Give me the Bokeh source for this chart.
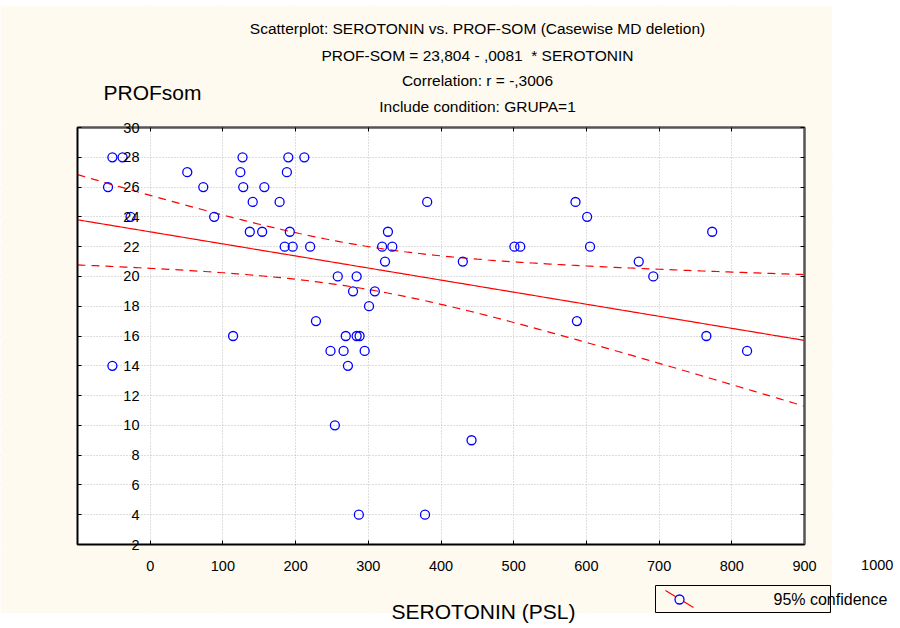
import numpy as np
from bokeh.plotting import figure
from bokeh.models import (Range1d, LinearAxis, FixedTicker, Label, BoxAnnotation,
                          PolyAnnotation)
from bokeh.embed import file_html
from bokeh.resources import INLINE

# ---------------- data ----------------
serotonin = [48, 62, 227, 290, 312,
             151, 224, 288,
             42, 173, 228, 257,
             241, 278, 481, 685,
             73, 188, 701,
             237, 254, 292, 427, 873,
             285, 296, 320, 419, 433, 601, 609, 705,
             423, 530, 772,
             358, 384, 792,
             379, 409,
             401,
             328, 687,
             214, 369, 384, 388, 865,
             348, 366, 395, 921,
             48, 372,
             354,
             542,
             387, 478]
prof_som = [28, 28, 28, 28, 28,
            27, 27, 27,
            26, 26, 26, 26,
            25, 25, 25, 25,
            24, 24, 24,
            23, 23, 23, 23, 23,
            22, 22, 22, 22, 22, 22, 22, 22,
            21, 21, 21,
            20, 20, 20,
            19, 19,
            18,
            17, 17,
            16, 16, 16, 16, 16,
            15, 15, 15, 15,
            14, 14,
            10,
            9,
            4, 4]

intercept = 23.804
slope = -0.0081

x_tick_values = [100, 200, 300, 400, 500, 600, 700, 800, 900, 1000]
x_tick_labels = ["0", "100", "200", "300", "400", "500", "600", "700", "800", "900"]
extra_x_tick = 1100
extra_x_label = "1000"
y_tick_values = [2, 4, 6, 8, 10, 12, 14, 16, 18, 20, 22, 24, 26, 28, 30]

title_lines = ["Scatterplot: SEROTONIN vs. PROF-SOM (Casewise MD deletion)",
               "PROF-SOM = 23,804 - ,0081 \u00a0* SEROTONIN",
               "Correlation: r = -,3006",
               "Include condition: GRUPA=1"]
y_title = "PROFsom"
x_title = "SEROTONIN (PSL)"
legend_text = "95% confidence"

# ---------------- layout (page pixels -> data coordinates) ----------------
X0, X1, Y0, Y1 = 0, 1000, 2, 30
FL, FR, FT, FB = 77, 804, 127, 544   # plot box edges in page pixels
W, H = 900, 626


def dx(px):
    return X0 + (px - FL) * (X1 - X0) / (FR - FL)


def dy(py):
    return Y0 + (FB - py) * (Y1 - Y0) / (FB - FT)


CREAM = "#fefaef"
FONT = "Liberation Sans"

p = figure(width=W, height=H, output_backend="svg", toolbar_location=None,
           x_range=Range1d(dx(0), dx(W)), y_range=Range1d(dy(H), dy(0)),
           x_axis_location=None, y_axis_location=None,
           min_border=0)
p.border_fill_color = "white"
p.background_fill_color = "white"
p.outline_line_color = None

# grid (only inside the plot box; the rest is covered below)
p.xgrid.ticker = FixedTicker(ticks=x_tick_values[:-1])
p.ygrid.ticker = FixedTicker(ticks=y_tick_values[1:-1])
for g in (p.xgrid, p.ygrid):
    g.grid_line_color = "#bdbdbd"
    g.grid_line_dash = "1 2"
    g.grid_line_width = 1


def box(l, r, t, b, color):
    return BoxAnnotation(left=dx(l), right=dx(r), top=dy(t), bottom=dy(b),
                         fill_color=color, fill_alpha=1, line_color=None,
                         level="underlay")


for args in ((0, 832, 5, FT, CREAM), (0, 832, FB, 613, CREAM),
             (0, FL, FT, FB, CREAM), (FR, 832, FT, FB, CREAM),
             (0, W, 0, 5, "white"), (832, W, 0, H, "white"), (0, W, 613, H, "white")):
    p.add_layout(box(*args))
p.add_layout(BoxAnnotation(left=X0, right=X1, bottom=Y0, top=Y1, fill_alpha=0,
                           line_color="#555555", line_alpha=1, line_width=2,
                           level="underlay"))

# axes drawn at the edges of the plot box
xt = FixedTicker(ticks=x_tick_values)
yt = FixedTicker(ticks=y_tick_values)
bottom = LinearAxis(ticker=xt, fixed_location=Y0, bounds=(X0, X1),
                    major_label_overrides=dict(zip(x_tick_values, x_tick_labels)))
left = LinearAxis(ticker=yt, fixed_location=X0, bounds=(Y0, Y1))
top = LinearAxis(ticker=xt, fixed_location=Y1, bounds=(X0, X1),
                 major_label_overrides={v: "" for v in x_tick_values})
right = LinearAxis(ticker=yt, fixed_location=X1, bounds=(Y0, Y1),
                   major_label_overrides={v: "" for v in y_tick_values})
for ax, col, lw in ((bottom, "black", 1.5), (left, "black", 1.5),
                    (top, "#555555", 2), (right, "#555555", 2)):
    ax.axis_line_color = col
    ax.axis_line_width = lw
    ax.major_tick_in = 4
    ax.major_tick_out = 0
    ax.major_tick_line_color = "black"
    ax.minor_tick_line_color = None
    ax.major_label_text_font = FONT
    ax.major_label_text_font_size = "14.5px"
    ax.major_label_text_color = "black"
bottom.major_label_standoff = 16
left.major_label_standoff = -62
p.add_layout(left, "left")
p.add_layout(right, "right")
p.add_layout(bottom, "below")
p.add_layout(top, "above")

# regression line and 95% confidence band of the mean
xs = np.array(serotonin, dtype=float)
ys = np.array(prof_som, dtype=float)
n = len(xs)
resid = ys - (intercept + slope * xs)
s = np.sqrt(np.sum(resid ** 2) / (n - 2))
xbar = xs.mean()
sxx = np.sum((xs - xbar) ** 2)
tval = 2.003
grid_x = np.linspace(X0, X1, 201)
fit = intercept + slope * grid_x
half = tval * s * np.sqrt(1.0 / n + (grid_x - xbar) ** 2 / sxx)

p.line(grid_x, fit, line_color="red", line_width=1.2)
p.line(grid_x, fit + half, line_color="red", line_width=1.2, line_dash="8 6")
p.line(grid_x, fit - half, line_color="red", line_width=1.2, line_dash="8 6")

p.scatter(serotonin, prof_som, marker="circle", size=9, fill_color=None,
          line_color="blue", line_width=1.3)


def label(text, px, py, size, align="center"):
    return Label(x=dx(px), y=dy(py), text=text, text_align=align,
                 text_baseline="middle", text_font=FONT, text_font_size=size,
                 text_color="black")


for txt, py in zip(title_lines, (28, 55, 80, 106)):
    p.add_layout(label(txt, 477, py, "15.5px"))
p.add_layout(label(y_title, 103, 92, "21px", align="left"))
p.add_layout(label(x_title, 483, 611, "21px"))
p.add_layout(Label(x=extra_x_tick, y=dy(564), text=extra_x_label, text_align="center",
                   text_baseline="middle", text_font=FONT, text_font_size="14.5px",
                   text_color="black"))

# legend
p.add_layout(BoxAnnotation(left=dx(655), right=dx(830), top=dy(585), bottom=dy(612),
                           fill_color=CREAM, fill_alpha=1, line_color="black",
                           line_alpha=1, line_width=1))
p.add_layout(PolyAnnotation(xs=[dx(665), dx(693)], ys=[dy(590), dy(607)],
                            fill_alpha=0, line_color="red", line_alpha=1,
                            line_width=1.2))
p.add_layout(BoxAnnotation(left=dx(674.5), right=dx(683.5), top=dy(594.5),
                           bottom=dy(603.5), border_radius=5, fill_color=CREAM,
                           fill_alpha=1, line_color="blue", line_alpha=1,
                           line_width=1.3))
p.add_layout(label(legend_text, 773, 599, "16px", align="left"))

open("out.html", "w").write(file_html(p, INLINE))
